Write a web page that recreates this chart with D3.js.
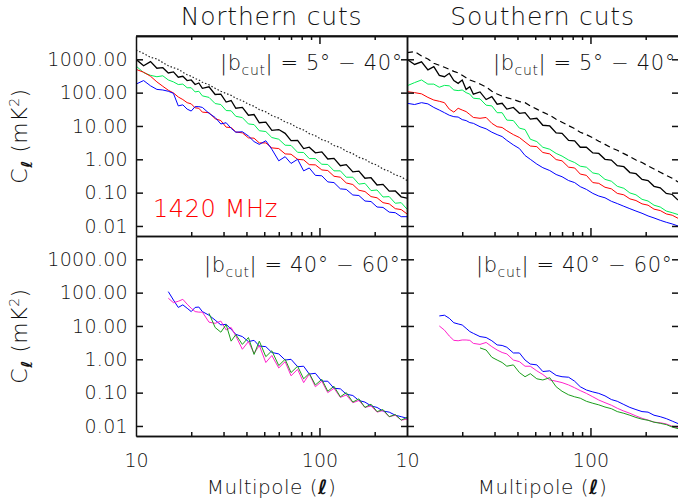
<!DOCTYPE html>
<html>
<head>
<meta charset="utf-8">
<script src="https://d3js.org/d3.v7.min.js"></script>
<style>
    body { margin: 0; background: #fff; }
    svg text { font-family: "DejaVu Sans", sans-serif; font-weight: 200; fill: #111; }
</style>
</head>
<body>
<svg id="chart" width="678" height="503"></svg>
<script>
    // multipole grid shared by every curve
    var multipoles = [10, 11, 12, 13, 14, 15, 16, 17, 18, 19, 20, 21, 22, 23,
        25, 27, 29, 31, 33, 35, 38, 41, 44, 47,
        51, 55, 60, 65, 70, 76, 82, 88, 95,
        103, 111, 120, 130, 140, 152, 164, 177, 191, 206, 222, 240, 259, 279, 300];

    // Northern cuts, |b| = 5 - 40 deg
    var northDotted = [1900, 1500, 1150, 1020, 800, 640, 560, 500, 410, 345, 310, 265, 240, 205,
        172, 135, 110, 94, 83, 68, 57, 45, 39, 31,
        26.5, 20.5, 17.2, 13.2, 11.5, 8.8, 7.6, 5.9, 5.1,
        3.9, 3.4, 2.6, 2.25, 1.75, 1.48, 1.14, 1.0, 0.77, 0.67, 0.51, 0.44, 0.34, 0.30, 0.23];
    var northBlack = [1000, 640, 850, 540, 560, 390, 420, 290, 310, 230, 240, 175, 195, 135,
        150, 88, 90, 52, 58, 34, 36, 21, 22, 12.5,
        13, 7.4, 7.8, 6.0, 3.65, 3.7, 2.1, 2.3, 1.57,
        1.67, 1.02, 1.07, 0.64, 0.69, 0.42, 0.44, 0.27, 0.28, 0.17, 0.177, 0.111, 0.112, 0.075, 0.068];
    var northGreen = [630, 400, 330, 300, 320, 240, 210, 175, 180, 140, 140, 105, 110, 80,
        72, 47, 44, 29, 28.5, 19.5, 17.8, 11.5, 11, 7.2,
        6.8, 4.5, 4.0, 2.65, 2.6, 1.62, 1.6, 1.05, 1.05,
        0.71, 0.7, 0.45, 0.45, 0.29, 0.29, 0.18, 0.19, 0.115, 0.12, 0.074, 0.076, 0.048, 0.05, 0.032];
    var northRed = [500, 410, 310, 210, 155, 118, 98, 74, 62, 50, 46, 35, 34, 26,
        25, 16.5, 14.5, 9.2, 9.0, 6.6, 6.2, 4.4, 4.3, 3.1,
        3.1, 2.2, 2.1, 1.45, 1.42, 1.0, 0.96, 0.69, 0.68,
        0.48, 0.46, 0.31, 0.29, 0.195, 0.175, 0.118, 0.108, 0.076, 0.070, 0.050, 0.046, 0.033, 0.031, 0.023];
    var northBlue = [180, 230, 160, 125, 120, 110, 95, 40, 43, 32, 28, 38, 38, 36,
        24, 18, 11.5, 12.5, 8.5, 6.5, 6.7, 5.0, 3.4, 2.8,
        3.6, 2.0, 0.9, 1.2, 0.75, 1.0, 0.45, 0.55, 0.33,
        0.32, 0.21, 0.20, 0.13, 0.125, 0.085, 0.082, 0.056, 0.054, 0.037, 0.036, 0.026, 0.025, 0.019, 0.019];

    // Southern cuts, |b| = 5 - 40 deg
    var southDashed = [1580, 1700, 1260, 1020, 760, 660, 575, 500, 435, 390, 330, 280, 240, 220,
        182, 148, 110, 91, 79, 71, 62, 54, 50, 40,
        32, 26, 21, 15.8, 12.9, 10.2, 8.3, 6.5, 5.5,
        4.4, 3.5, 2.8, 2.2, 1.86, 1.48, 1.2, 0.95, 0.8, 0.63, 0.51, 0.41, 0.33, 0.27, 0.21];
    var southBlack = [1000, 700, 840, 480, 600, 330, 300, 380, 230, 190, 240, 125, 150, 90,
        105, 62, 76, 45, 48, 32, 36, 24, 25, 16,
        17, 10.5, 10, 6.2, 6.0, 3.7, 3.6, 2.3, 2.3,
        1.55, 1.5, 1.0, 0.95, 0.64, 0.6, 0.40, 0.37, 0.25, 0.23, 0.155, 0.14, 0.095, 0.088, 0.06];
    var southGreen = [160, 200, 240, 180, 180, 145, 165, 160, 120, 115, 120, 100, 90, 68,
        65, 42, 40, 25, 25, 15, 14.5, 8.6, 7.8, 4.0,
        3.4, 2.3, 2.0, 1.5, 1.25, 0.95, 0.8, 0.62, 0.58,
        0.39, 0.36, 0.25, 0.22, 0.155, 0.135, 0.098, 0.086, 0.063, 0.056, 0.042, 0.037, 0.028, 0.025, 0.022];
    var southRed = [107, 100, 92, 72, 60, 55, 50, 32, 26, 34, 30, 27, 22, 18,
        17, 18, 12, 9.5, 9.0, 7.2, 5.5, 4.5, 3.3, 2.5,
        2.4, 1.6, 1.45, 0.98, 0.9, 0.58, 0.55, 0.36, 0.33,
        0.2, 0.19, 0.145, 0.13, 0.095, 0.086, 0.065, 0.058, 0.046, 0.042, 0.032, 0.029, 0.023, 0.021, 0.017];
    var southBlue = [48, 44, 50, 46, 36, 30, 25, 21, 19, 18.5, 15.5, 14.5, 12.6, 12,
        9.5, 8.2, 6.5, 5.5, 4.8, 3.7, 2.7, 2.1, 1.3, 1.0,
        0.72, 0.56, 0.46, 0.35, 0.3, 0.23, 0.2, 0.151, 0.125,
        0.095, 0.079, 0.07, 0.055, 0.047, 0.039, 0.033, 0.028, 0.024, 0.020, 0.0174, 0.0148, 0.0129, 0.0115, 0.010];

    // Northern cuts, |b| = 40 - 60 deg
    var northHighBlue = [null, null, null, null, null, 107, 60, 36, 43, 34, 27, 36, 37, 27,
        21, 15, 10.8, 11.2, 8.0, 5.6, 4.8, 3.4, 3.7, 2.5,
        2.4, 1.6, 1.45, 0.95, 1.0, 0.6, 0.62, 0.36, 0.38,
        0.22, 0.22, 0.135, 0.13, 0.09, 0.082, 0.058, 0.052, 0.04, 0.036, 0.028, 0.026, 0.021, 0.019, 0.017];
    var northHighMagenta = [null, null, null, null, null, 68, 50, 55, 63, 45, 34, 27, 26, 26,
        13, 12, 14, 7.6, 9.0, 5.0, 2.0, 3.4, 1.5, 2.6,
        0.8, 1.3, 0.55, 0.85, 0.32, 0.5, 0.2, 0.36, 0.15,
        0.22, 0.1, 0.135, 0.072, 0.085, 0.05, 0.058, 0.036, 0.04, 0.026, 0.029, 0.019, 0.021, 0.015, 0.016];
    var northHighGreen = [null, null, null, null, null, null, null, null, null, null, null, null, null, null,
        24, 9, 6.5, 11, 3.5, 5.5, 2.8, 4.5, 1.4, 3.5,
        1.2, 1.8, 0.65, 1.0, 0.4, 0.62, 0.26, 0.38, 0.17,
        0.25, 0.11, 0.155, 0.075, 0.1, 0.052, 0.065, 0.036, 0.045, 0.027, 0.031, 0.019, 0.022, 0.015, 0.018];

    // Southern cuts, |b| = 40 - 60 deg
    var southHighBlue = [null, null, null, null, null, 20, 21, 17, 12.5, 11.5, 10.7, 8.5, 6.8, 6.0,
        4.8, 4.5, 3.6, 2.7, 2.6, 2.3, 1.55, 1.55, 0.95, 0.72,
        0.68, 0.43, 0.45, 0.33, 0.3, 0.29, 0.22, 0.15, 0.12,
        0.105, 0.095, 0.08, 0.062, 0.055, 0.044, 0.036, 0.031, 0.027, 0.026, 0.021, 0.019, 0.0166, 0.014, 0.0118];
    var southHighMagenta = [null, null, null, null, null, 10, 7.5, 5.0, 3.7, 3.6, 3.8, 3.8, 3.7, 3.0,
        2.8, 3.2, 2.4, 1.9, 1.6, 1.45, 0.95, 0.85, 0.62, 0.62,
        0.45, 0.35, 0.24, 0.22, 0.2, 0.17, 0.14, 0.115, 0.095,
        0.075, 0.06, 0.05, 0.042, 0.034, 0.028, 0.024, 0.02, 0.017, 0.015, 0.013, 0.0125, 0.0115, 0.0098, 0.0088];
    var southHighGreen = [null, null, null, null, null, null, null, null, null, null, null, null, null, null,
        2.2, 1.9, 1.15, 0.95, 0.8, 0.62, 0.68, 0.4, 0.3, 0.37,
        0.26, 0.24, 0.28, 0.15, 0.11, 0.086, 0.075, 0.068, 0.055,
        0.048, 0.043, 0.037, 0.033, 0.027, 0.024, 0.021, 0.018, 0.016, 0.0148, 0.013, 0.012, 0.011, 0.0093, 0.0083];

    var yTickValues = [0.01, 0.1, 1, 10, 100, 1000];
    var xMinorTicks = [20, 30, 40, 50, 60, 70, 80, 90, 200];
    var xMajorTicks = [100];
    var xLabelTicks = [10, 100];

    var svg = d3.select("#chart"),
        marginLeft = 136, marginTop = 36,
        panelW = 271, panelH = 200;

    var x = d3.scaleLog().domain([10, 300]).range([0, panelW]);
    var y = d3.scaleLog().domain([0.005, 5000]).range([panelH, 0]);

    var line = d3.line()
        .defined(function (d) { return d[1] !== null; })
        .x(function (d) { return x(d[0]); })
        .y(function (d) { return y(d[1]); });

    var panels = [
        {col: 0, row: 0, label: "5° − 40°", labelX: 84, series: [
            {values: northDotted, color: "#222", dash: "1.5,2", width: 1.2},
            {values: northBlack, color: "#000", width: 1.3},
            {values: northGreen, color: "#00ee55"},
            {values: northRed, color: "#ff0000"},
            {values: northBlue, color: "#0000ff"}]},
        {col: 1, row: 0, label: "5° − 40°", labelX: 86, series: [
            {values: southDashed, color: "#000", dash: "6,4", width: 1.2},
            {values: southBlack, color: "#000", width: 1.3},
            {values: southGreen, color: "#00ee55"},
            {values: southRed, color: "#ff0000"},
            {values: southBlue, color: "#0000ff"}]},
        {col: 0, row: 1, label: "40° − 60°", labelX: 68, series: [
            {values: northHighBlue, color: "#0000ff"},
            {values: northHighMagenta, color: "#ff22cc"},
            {values: northHighGreen, color: "#1a9e1a"}]},
        {col: 1, row: 1, label: "40° − 60°", labelX: 69, series: [
            {values: southHighBlue, color: "#0000ff"},
            {values: southHighMagenta, color: "#ff22cc"},
            {values: southHighGreen, color: "#1a9e1a"}]}
    ];

    function styleTicks(sel) {
        sel.selectAll("line, path").attr("stroke", "#111").attr("stroke-width", 1.5);
    }

    function drawPanel(p, i) {
        var g = svg.append("g")
            .attr("transform", "translate(" + (marginLeft + p.col * panelW) + "," + (marginTop + p.row * panelH) + ")");

        g.append("clipPath").attr("id", "clip" + i)
            .append("rect").attr("width", panelW).attr("height", panelH);

        var curves = g.append("g").attr("clip-path", "url(#clip" + i + ")");
        p.series.forEach(function (s) {
            curves.append("path")
                .datum(multipoles.map(function (l, k) { return [l, s.values[k]]; }))
                .attr("d", line)
                .attr("fill", "none")
                .attr("stroke", s.color)
                .attr("stroke-width", s.width || 1)
                .attr("stroke-dasharray", s.dash || null);
        });

        // left axis, ticks pointing in
        g.append("g")
            .call(d3.axisRight(y).tickValues(yTickValues).tickSize(7).tickSizeOuter(0).tickFormat(""))
            .call(styleTicks);

        // right axis ticks
        var right = g.append("g").attr("transform", "translate(" + panelW + ",0)")
            .call(d3.axisLeft(y).tickValues(yTickValues).tickSize(6).tickSizeOuter(0).tickFormat(""))
            .call(styleTicks);
        if (p.col === 1) right.select(".domain").remove();

        // bottom axis
        var bottom = g.append("g").attr("transform", "translate(0," + panelH + ")");
        bottom.append("g")
            .call(d3.axisTop(x).tickValues(xMinorTicks).tickSize(4).tickSizeOuter(0).tickFormat(""))
            .call(styleTicks);
        bottom.append("g")
            .call(d3.axisTop(x).tickValues(xMajorTicks).tickSize(8).tickSizeOuter(0).tickFormat(""))
            .call(styleTicks);

        if (p.row === 0) {
            g.append("g")
                .call(d3.axisBottom(x).tickValues(xMinorTicks).tickSize(4).tickSizeOuter(0).tickFormat(""))
                .call(styleTicks);
            g.append("g")
                .call(d3.axisBottom(x).tickValues(xMajorTicks).tickSize(8).tickSizeOuter(0).tickFormat(""))
                .call(styleTicks);
        }

        if (p.col === 0) {
            var yl = g.append("g")
                .call(d3.axisLeft(y).tickValues(yTickValues).tickSize(0).tickPadding(8)
                    .tickFormat(d3.format(".2f")));
            yl.select(".domain").remove();
            yl.attr("font-size", 19).attr("font-family", null)
                .selectAll("text").attr("letter-spacing", 0.3);
        }

        if (p.row === 1) {
            var xl = bottom.append("g")
                .call(d3.axisBottom(x).tickValues(xLabelTicks).tickSize(0).tickPadding(18)
                    .tickFormat(d3.format("d")));
            xl.select(".domain").remove();
            xl.attr("font-size", 19).attr("font-family", null);

            var xt = g.append("text")
                .attr("x", panelW / 2)
                .attr("y", panelH + 58)
                .attr("text-anchor", "middle")
                .attr("font-size", 20)
                .attr("letter-spacing", 0.5);
            xt.append("tspan").text("Multipole (");
            xt.append("tspan").attr("font-style", "italic").attr("font-weight", "bold").text("ℓ");
            xt.append("tspan").text(")");
        }

        // |b_cut| annotation
        var t = g.append("text")
            .attr("x", p.labelX)
            .attr("y", p.row === 0 ? 34 : 36)
            .attr("font-size", 21)
            .attr("letter-spacing", 0.6);
        t.append("tspan").text("|b");
        t.append("tspan").attr("font-size", 14).attr("dy", 5).text("cut");
        t.append("tspan").attr("dy", -5).text("| = " + p.label);
    }

    panels.forEach(drawPanel);

    // top frame line of the upper panels
    svg.append("line")
        .attr("x1", marginLeft).attr("x2", marginLeft + 2 * panelW)
        .attr("y1", marginTop).attr("y2", marginTop)
        .attr("stroke", "#111").attr("stroke-width", 1.5);

    svg.append("text").attr("x", marginLeft + panelW / 2).attr("y", 25)
        .attr("text-anchor", "middle").attr("font-size", 25).attr("letter-spacing", 0.8)
        .text("Northern cuts");
    svg.append("text").attr("x", marginLeft + panelW * 1.5).attr("y", 25)
        .attr("text-anchor", "middle").attr("font-size", 25).attr("letter-spacing", 0.8)
        .text("Southern cuts");

    svg.append("text").attr("x", 153).attr("y", 217)
        .attr("font-size", 24).attr("letter-spacing", 0.6)
        .style("fill", "#ff0000")
        .text("1420 MHz");

    // y axis titles
    [0, 1].forEach(function (row) {
        var t = svg.append("text")
            .attr("transform", "translate(27," + (marginTop + row * panelH + panelH / 2) + ") rotate(-90)")
            .attr("text-anchor", "middle")
            .attr("font-size", 22)
            .attr("letter-spacing", 0.5);
        t.append("tspan").text("C");
        t.append("tspan").attr("font-size", 15).attr("dy", 5)
            .attr("font-style", "italic").attr("font-weight", "bold").text("ℓ");
        t.append("tspan").attr("dy", -5).text(" (mK");
        t.append("tspan").attr("font-size", 14).attr("dy", -8).text("2");
        t.append("tspan").attr("dy", 8).text(")");
    });
</script>
</body>
</html>
